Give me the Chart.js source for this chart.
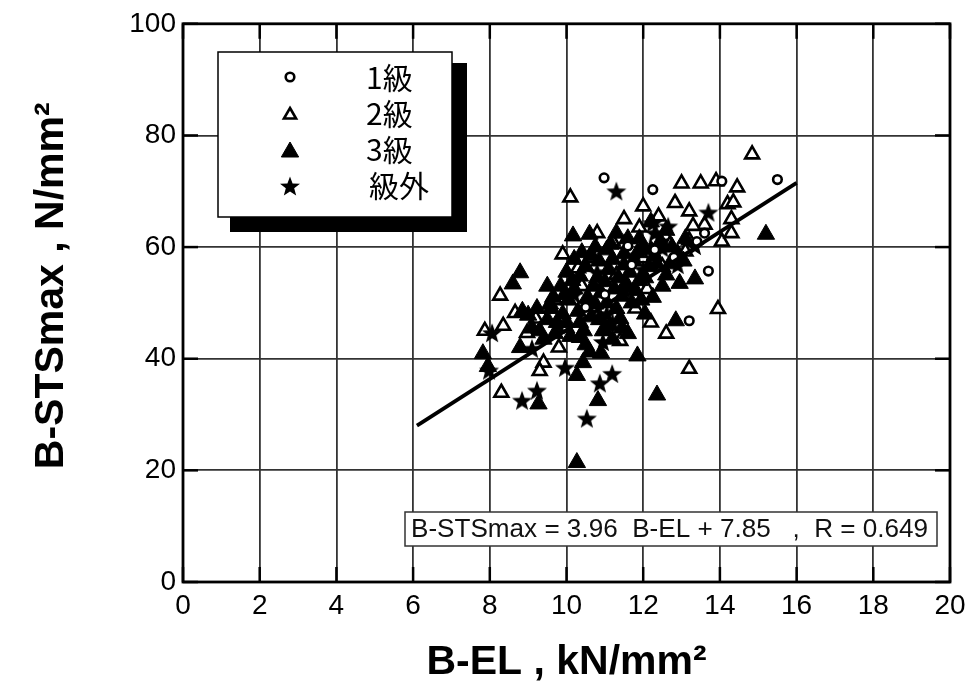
<!DOCTYPE html>
<html><head><meta charset="utf-8">
<script src="https://cdn.jsdelivr.net/npm/chart.js@4.4.0/dist/chart.umd.min.js"></script>
<style>html,body{margin:0;padding:0;background:#fff;}#wrap{width:973px;height:695px;}</style>
</head><body><div id="wrap"><canvas id="c" width="973" height="695"></canvas></div>
<script>
const xTickValues = [0,2,4,6,8,10,12,14,16,18,20];
const yTickValues = [0,20,40,60,80,100];
const legendLabels = ['1級','2級','3級','級外'];
const xTitle = 'B-EL , kN/mm²';
const yTitle = '   B-STSmax , N/mm²';
const fitText = 'B-STSmax = 3.96  B-EL + 7.85   ,  R = 0.649';
const fitLine = [[6.1,28.0],[16.0,71.5]];

const grade1 = [[10.98,72.4],[15.5,72.1],[14.05,71.8],[12.25,70.3],[13.6,62.5],[13.7,55.7],[13.2,46.8],[12.3,59.5],[11.7,56.8],[11.0,51.5],[12.8,58.2],[10.5,49.2],[11.6,60.2],[13.4,61.0]];

const grade2 = [[14.84,76.6],[10.1,68.9],[9.9,58.7],[11.5,60.6],[12.0,67.3],[12.83,67.9],[13.0,71.4],[13.5,71.4],[13.9,71.8],[14.45,70.7],[13.2,66.4],[14.2,67.7],[14.35,68.0],[14.3,65.0],[14.05,61.0],[13.2,61.2],[14.3,62.5],[12.57,62.0],[13.95,48.9],[13.2,38.2],[12.6,44.5],[11.4,43.2],[9.4,39.3],[9.3,37.8],[8.3,33.9],[8.27,51.3],[8.66,48.2],[7.87,45.0],[8.35,45.9],[8.97,44.6],
[10.6,58.0],[11.2,61.0],[11.9,63.5],[12.4,65.5],[13.6,64.0],[12.7,60.5],[11.3,55.0],[10.4,53.0],[10.9,47.0],[12.1,52.5],[9.7,50.5],[10.0,45.5],[11.8,49.0],[12.5,56.5],[13.1,59.2],[10.8,62.5],[11.5,65.0],[9.2,47.2],[9.8,42.0],[12.2,46.5],[13.3,63.8],[12.0,58.0],[10.3,56.2],[11.0,45.0]];

const grade3 = [[15.2,62.3],[13.35,54.3],[12.85,46.8],[12.36,33.5],[11.85,40.5],[10.82,32.5],[10.27,21.4],[10.27,37.0],[10.43,39.3],[9.27,31.9],[7.82,40.9],[7.95,38.6],[8.79,55.4],[8.6,53.4],[10.17,62.0],[10.6,62.3],[8.79,42.0],[9.23,49.0],[9.57,49.8],[11.13,45.9],[10.35,43.8],
[9.5,47.0],[9.1,45.5],[9.4,43.5],[9.7,44.5],[9.9,48.0],[10.05,50.5],[10.2,52.5],[10.35,54.8],[10.5,56.5],[10.65,47.5],[10.75,49.8],[10.9,51.8],[11.0,53.8],[11.1,56.0],[11.2,57.8],[11.3,49.0],[11.45,51.2],[11.55,53.5],[11.65,55.5],[11.75,57.5],[11.85,59.0],[11.95,50.5],[12.05,54.5],[12.15,56.5],[12.3,58.5],[12.45,61.0],[12.6,55.0],[12.7,57.0],[12.9,58.8],[10.1,44.0],[10.5,42.5],[10.95,45.0],[11.4,47.2],[11.05,59.5],[10.75,60.0],[9.85,53.0],[9.65,51.0],[10.35,46.5],[13.05,57.5],[12.95,53.5],[12.05,48.0],[11.6,44.5],[10.6,41.2],[9.0,47.8],[8.85,48.5],[10.0,55.5],[10.4,59.0],[11.3,62.5],[11.9,61.5],[12.6,63.0],[12.2,64.5],[10.8,54.5],[11.5,58.8],[9.5,53.0],[10.2,57.8],
[10.0,46.5],[10.3,48.5],[10.55,51.0],[10.7,53.0],[10.85,57.5],[11.05,50.0],[11.25,52.5],[11.35,54.5],[11.5,56.8],[11.7,50.0],[11.8,52.2],[11.9,54.0],[12.0,60.0],[12.2,59.5],[12.35,57.0],[12.5,53.0],[11.2,43.5],[10.85,47.0],[10.45,45.0],[9.75,46.5],[9.6,49.0],[9.95,51.5],[10.15,54.0],[10.65,58.5],[11.15,60.5],[11.6,61.5],[12.75,60.0],[13.1,61.5],[12.25,51.0],[11.45,45.5],[10.9,41.0],[9.3,45.0]];

const gradeOut = [[11.3,70.0],[13.7,66.2],[12.25,64.3],[12.65,63.7],[8.06,44.6],[7.98,37.9],[8.84,32.5],[9.23,34.3],[9.96,38.4],[10.87,35.6],[11.19,37.3],[10.53,29.3],[10.95,43.0],[10.5,50.0],[11.05,48.0],[11.5,52.5],[12.0,56.0],[10.2,51.5],[11.8,58.5],[12.5,59.8],[10.8,55.5],[9.8,46.0],[11.2,46.5],[13.35,60.2],[12.9,56.8],[9.1,41.8],[12.3,62.5]];

const toPts = a => a.map(p => ({x:p[0], y:p[1]}));

function starPath(ctx, cx, cy, ro, ri){
  ctx.beginPath();
  for(let i=0;i<10;i++){
    const r = i%2===0 ? ro : ri;
    const a = -Math.PI/2 + i*Math.PI/5;
    const px = cx + r*Math.cos(a), py = cy + r*Math.sin(a);
    if(i===0) ctx.moveTo(px,py); else ctx.lineTo(px,py);
  }
  ctx.closePath();
}
const starImg = document.createElement('canvas');
starImg.width = 22; starImg.height = 22;
{ const g = starImg.getContext('2d'); g.fillStyle = '#000'; starPath(g,11,11.8,10.5,4.4); g.fill(); }

function triPath(ctx, x, y, r){
  ctx.beginPath();
  let a = 0;
  ctx.moveTo(x + Math.sin(a)*r, y - Math.cos(a)*r);
  a += 2*Math.PI/3; ctx.lineTo(x + Math.sin(a)*r, y - Math.cos(a)*r);
  a += 2*Math.PI/3; ctx.lineTo(x + Math.sin(a)*r, y - Math.cos(a)*r);
  ctx.closePath();
}

const decor = {
  id: 'decor',
  afterDatasetsDraw(chart){
    const {ctx, chartArea:a, scales:{x, y}} = chart;
    ctx.save();
    ctx.strokeStyle = '#000'; ctx.lineWidth = 2.5;
    xTickValues.forEach(v => {
      const px = x.getPixelForValue(v);
      ctx.beginPath(); ctx.moveTo(px, a.bottom); ctx.lineTo(px, a.bottom-15); ctx.stroke();
      ctx.beginPath(); ctx.moveTo(px, a.top); ctx.lineTo(px, a.top+15); ctx.stroke();
    });
    yTickValues.forEach(v => {
      const py = y.getPixelForValue(v);
      ctx.beginPath(); ctx.moveTo(a.left, py); ctx.lineTo(a.left+15, py); ctx.stroke();
      ctx.beginPath(); ctx.moveTo(a.right, py); ctx.lineTo(a.right-15, py); ctx.stroke();
    });
    ctx.lineWidth = 2.8;
    ctx.strokeRect(a.left, a.top, a.right-a.left, a.bottom-a.top);
    // legend box with shadow
    ctx.fillStyle = '#000';
    ctx.fillRect(230, 63, 237, 169);
    ctx.fillStyle = '#fff';
    ctx.fillRect(218, 52, 234, 165);
    ctx.lineWidth = 1.5; ctx.strokeStyle = '#000';
    ctx.strokeRect(218, 52, 234, 165);
    const rows = [77, 113, 149, 185];
    const mx = 290;
    ctx.lineWidth = 2.6;
    ctx.beginPath(); ctx.arc(mx, rows[0], 4.3, 0, 2*Math.PI); ctx.fillStyle='#fff'; ctx.fill(); ctx.stroke();
    triPath(ctx, mx, rows[1]+2, 7); ctx.fillStyle='#fff'; ctx.fill(); ctx.stroke();
    ctx.lineWidth = 1;
    triPath(ctx, mx, rows[2]+3, 10); ctx.fillStyle='#000'; ctx.fill(); ctx.stroke();
    starPath(ctx, mx, rows[3]+2, 10.5, 4.4); ctx.fill();
    ctx.fillStyle = '#000';
    ctx.font = '30px "Noto Sans CJK JP"';
    ctx.textBaseline = 'middle'; ctx.textAlign = 'left';
    legendLabels.forEach((t, i) => ctx.fillText(t, i===3 ? 369 : 366, rows[i]+1));
    // regression text box
    ctx.fillStyle = '#fff';
    ctx.fillRect(405, 512, 532, 34);
    ctx.strokeStyle = '#333'; ctx.lineWidth = 1.5;
    ctx.strokeRect(405, 512, 532, 34);
    ctx.fillStyle = '#111';
    ctx.font = '20px "Liberation Sans"';
    const w = ctx.measureText(fitText).width;
    const fs = 20 * 518 / w;
    ctx.font = fs.toFixed(1) + 'px "Liberation Sans"';
    ctx.textBaseline = 'middle';
    ctx.fillText(fitText, 411, 530);
    ctx.restore();
  }
};

new Chart(document.getElementById('c'), {
  type: 'scatter',
  data: {
    datasets: [
      { label: 'fit', type: 'line', data: toPts(fitLine), borderColor: '#000', borderWidth: 3.8, pointRadius: 0, fill: false, order: 0 },
      { label: legendLabels[0], data: toPts(grade1), pointStyle: 'circle', pointRadius: 4.3, backgroundColor: '#fff', borderColor: '#000', borderWidth: 2.6, order: 1 },
      { label: legendLabels[3], data: toPts(gradeOut), pointStyle: starImg, pointRadius: 11, backgroundColor: '#000', borderColor: '#000', order: 2 },
      { label: legendLabels[2], data: toPts(grade3), pointStyle: 'triangle', pointRadius: 10, backgroundColor: '#000', borderColor: '#000', borderWidth: 1, order: 3 },
      { label: legendLabels[1], data: toPts(grade2), pointStyle: 'triangle', pointRadius: 8, backgroundColor: '#fff', borderColor: '#000', borderWidth: 2.6, order: 4 }
    ]
  },
  options: {
    responsive: false,
    animation: false,
    layout: { padding: { left: 0, right: 23, top: 22, bottom: 0 } },
    plugins: { legend: { display: false }, tooltip: { enabled: false } },
    scales: {
      x: {
        type: 'linear', min: 0, max: 20,
        afterBuildTicks: s => { s.ticks = xTickValues.map(v => ({value: v})); },
        afterFit: s => { s.height = 113; },
        ticks: { font: { family: '"Liberation Sans"', size: 28 }, color: '#000', padding: 7 },
        grid: { color: '#333', lineWidth: 1.8, drawTicks: false },
        border: { display: false },
        title: { display: true, text: xTitle, font: { family: '"Liberation Sans"', size: 41, weight: 'bold' }, color: '#000', padding: { top: 0, bottom: 8 } }
      },
      y: {
        type: 'linear', min: 0, max: 100,
        afterBuildTicks: s => { s.ticks = yTickValues.map(v => ({value: v})); },
        afterFit: s => { s.width = 183; },
        ticks: { font: { family: '"Liberation Sans"', size: 28 }, color: '#000', padding: 7 },
        grid: { color: '#333', lineWidth: 1.8, drawTicks: false },
        border: { display: false },
        title: { display: true, text: yTitle, font: { family: '"Liberation Sans"', size: 41, weight: 'bold' }, color: '#000', padding: { top: 27, bottom: 0 } }
      }
    }
  },
  plugins: [decor]
});
</script></body></html>
